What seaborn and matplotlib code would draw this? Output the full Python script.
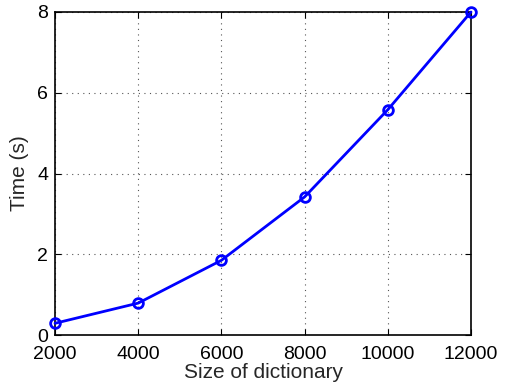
import matplotlib
matplotlib.use("Agg")
import matplotlib.pyplot as plt
import seaborn as sns
import pandas as pd

dict_size = [2000, 4000, 6000, 8000, 10000, 12000]
time_s = [0.29, 0.79, 1.85, 3.42, 5.58, 8.0]
x_ticks = [2000, 4000, 6000, 8000, 10000, 12000]
y_ticks = [0, 2, 4, 6, 8]

sns.set_style("white")
plt.rcParams["font.family"] = ["Liberation Sans", "DejaVu Sans"]

df = pd.DataFrame({"size": dict_size, "time": time_s})

fig = plt.figure(figsize=(5.08, 3.86), dpi=100)
ax = fig.add_axes([55 / 508, 1 - 335 / 386, (471 - 55) / 508, (335 - 12) / 386])

sns.lineplot(data=df, x="size", y="time", ax=ax, color="#0000ff", linewidth=2,
             marker="o", markersize=7, markerfacecolor="none",
             markeredgecolor="#0000ff", markeredgewidth=2, clip_on=False, zorder=5)

ax.set_xlim(2000, 12000)
ax.set_ylim(0, 8)
ax.set_xticks(x_ticks)
ax.set_yticks(y_ticks)
ax.set_xticklabels([str(v) for v in x_ticks])
ax.set_yticklabels([str(v) for v in y_ticks])

ax.grid(True, linestyle=(0, (1, 4)), color="#555555", linewidth=0.8)
ax.tick_params(axis="both", direction="in", length=4, width=0.8, labelsize=14,
               top=True, right=True, bottom=True, left=True, colors="black")
ax.tick_params(axis="x", pad=8)
ax.tick_params(axis="y", pad=5)
for s in ax.spines.values():
    s.set_color("black")
    s.set_linewidth(1.2)

ax.set_xlabel("Size of dictionary", fontsize=15, labelpad=0)
ax.set_ylabel("Time (s)", fontsize=15, labelpad=6)

fig.savefig("out.png", dpi=100)
